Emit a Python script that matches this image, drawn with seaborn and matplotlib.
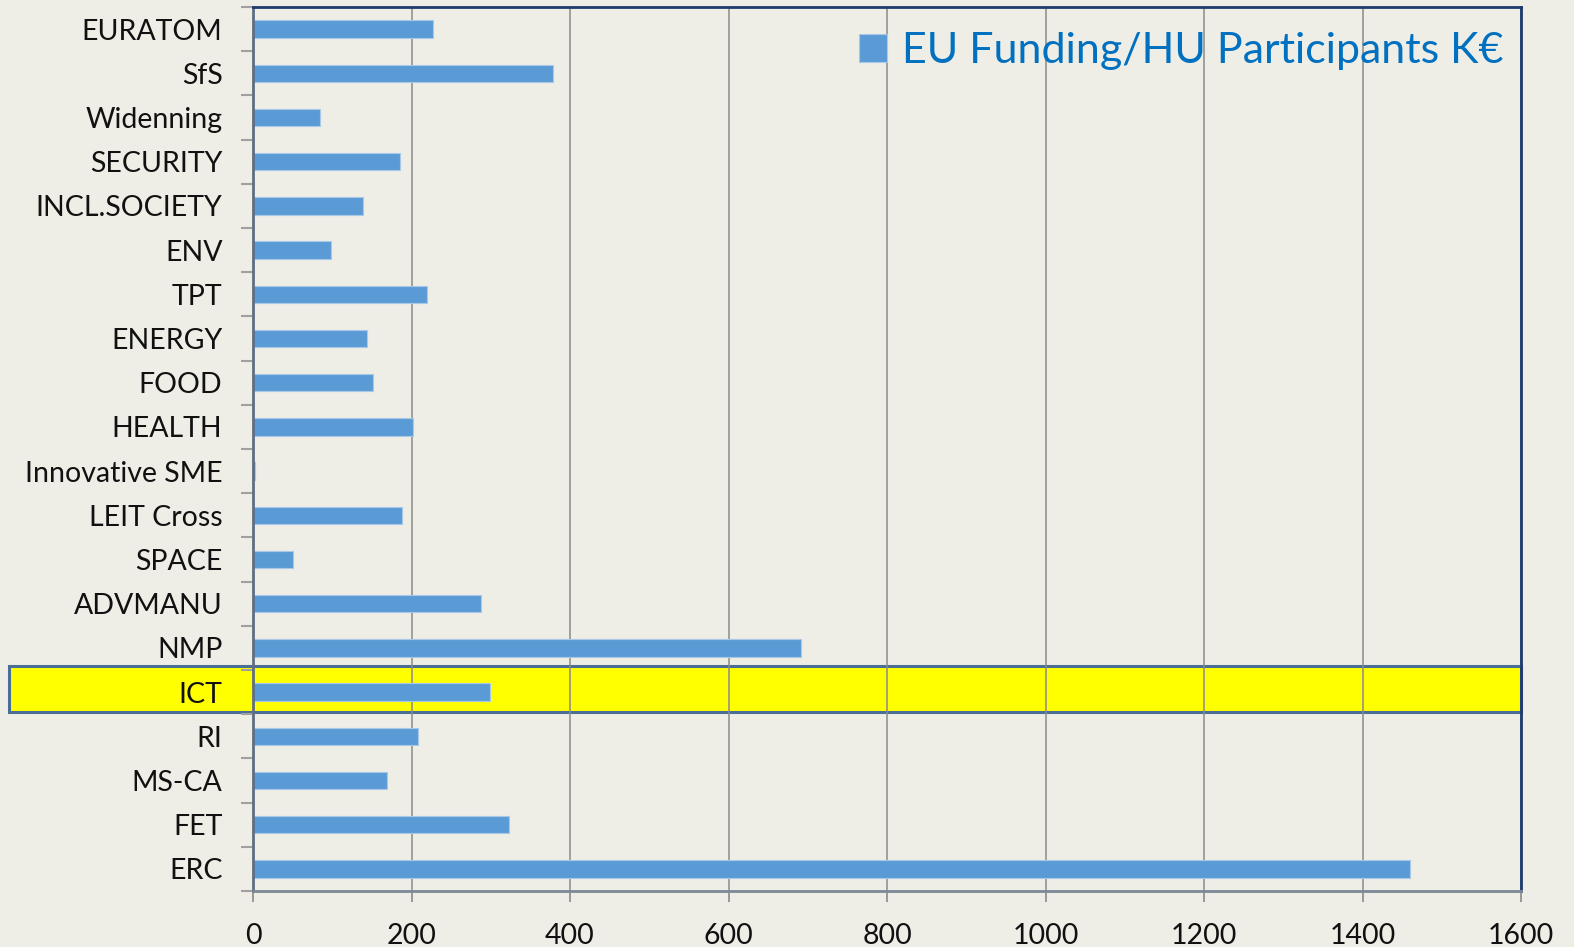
import matplotlib
matplotlib.use("Agg")
import matplotlib.pyplot as plt
import matplotlib.patches as mpatches
import matplotlib.transforms as mtransforms
from matplotlib.ticker import FixedLocator
import seaborn as sns
import pandas as pd

# EU funding received by Hungarian participants, per programme part (thousand EUR)
programmes = ["EURATOM", "SfS", "Widenning", "SECURITY", "INCL.SOCIETY", "ENV", "TPT",
              "ENERGY", "FOOD", "HEALTH", "Innovative SME", "LEIT Cross", "SPACE",
              "ADVMANU", "NMP", "ICT", "RI", "MS-CA", "FET", "ERC"]
funding_keur = [227, 379, 84, 186, 139, 98, 220,
                144, 151, 202, 3, 188, 50,
                288, 692, 299, 208, 169, 323, 1460]
x_ticks = [0, 200, 400, 600, 800, 1000, 1200, 1400, 1600]
highlighted = "ICT"
series_name = "EU Funding/HU Participants K\u20ac"

BG = "#EFEEE6"
BAR = "#5B9BD5"

df = pd.DataFrame({"programme": programmes, "funding": funding_keur})

sns.set_theme(style="white")
plt.rcParams["font.family"] = ["Lato", "DejaVu Sans"]

fig = plt.figure(figsize=(15.74, 9.47), dpi=100, facecolor=BG)
ax = fig.add_axes([253 / 1574, 1 - 891 / 947, 1268 / 1574, 884 / 947])
ax.set_facecolor(BG)

sns.barplot(data=df, x="funding", y="programme", order=programmes, orient="h",
            color=BAR, saturation=1, width=0.39, edgecolor="#A8C8E8",
            linewidth=0.8, ax=ax, zorder=2, label=series_name)

ax.set_xlim(0, 1600)
ax.set_ylim(len(programmes) - 0.5, -0.5)
ax.set_xlabel("")
ax.set_ylabel("")

# vertical gridlines
ax.set_axisbelow(True)
ax.xaxis.grid(True, color="#8A8A8A", linewidth=1.1)
ax.yaxis.grid(False)

# highlight band for the selected programme
idx = programmes.index(highlighted)
trans = mtransforms.blended_transform_factory(ax.transAxes, ax.transData)
band = mpatches.Rectangle((-0.1924, idx - 0.6), 1.1924, 1.04, transform=trans,
                          facecolor="#FFFF00", edgecolor="#4A6E96", linewidth=2.2,
                          clip_on=False, zorder=0.2)
ax.add_patch(band)

# ticks
ax.set_xticks(x_ticks)
ax.set_xticklabels([str(t) for t in x_ticks])
ax.tick_params(axis="x", which="major", direction="out", length=8, width=1.2,
               color="#8A8A8A", pad=15, labelsize=20.5, labelcolor="#111111",
               bottom=True)
ax.yaxis.set_minor_locator(FixedLocator([i - 0.5 for i in range(len(programmes) + 1)]))
ax.tick_params(axis="y", which="minor", direction="out", length=9, width=1.5,
               color="#A0A0A0", left=True)
ax.tick_params(axis="y", which="major", length=0, pad=22, labelsize=20.5,
               labelcolor="#111111")

# frame
ax.spines["left"].set_color("#5F6E82")
ax.spines["left"].set_linewidth(2)
ax.spines["bottom"].set_color("#7D8896")
ax.spines["bottom"].set_linewidth(2)
for side in ("top", "right"):
    ax.spines[side].set_color("#1F3A6E")
    ax.spines[side].set_linewidth(2)
    ax.spines[side].set_visible(True)

leg = ax.legend(loc="upper right", bbox_to_anchor=(1.003, 0.996), frameon=False,
                fontsize=31, handlelength=0.65, handleheight=0.65, handletextpad=0.35,
                borderaxespad=0.1)
for t in leg.get_texts():
    t.set_color("#0070C0")

fig.savefig("out.png", dpi=100, facecolor=BG)
